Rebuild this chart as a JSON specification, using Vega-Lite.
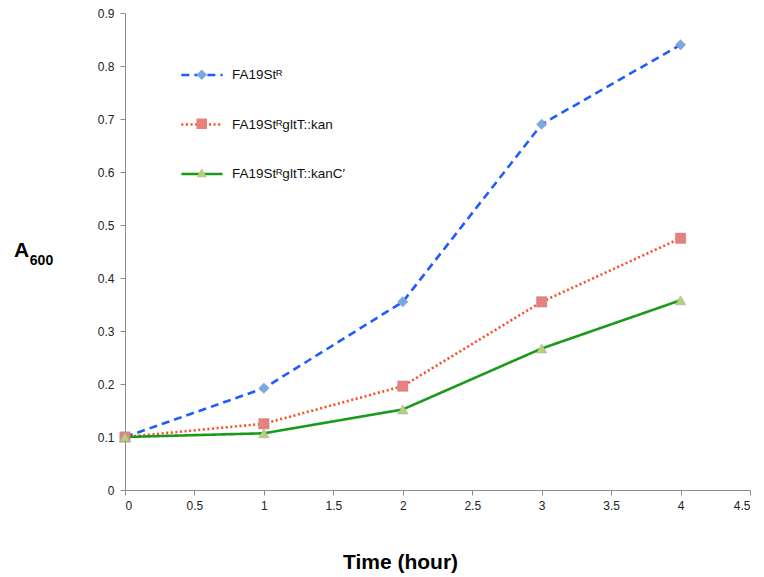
{
  "$schema": "https://vega.github.io/schema/vega-lite/v6.json",
  "width": 625,
  "height": 477,
  "autosize": {"type": "none"},
  "padding": {"left": 125, "top": 13, "right": 14, "bottom": 87},
  "background": "white",
  "config": {
    "view": {"stroke": null},
    "font": "Liberation Sans",
    "axis": {"grid": false, "domainColor": "#8c8c8c", "tickColor": "#8c8c8c", "labelColor": "#222", "labelFontSize": 12, "labelFont": "Liberation Sans", "tickSize": 5, "labelFontWeight": "normal"}
  },
  "data": {
    "values": [
      {"series": "FA19Stᴿ", "strain": "FA19Stᴿ", "hour": 0, "a600": 0.1},
      {"series": "FA19Stᴿ", "strain": "FA19Stᴿ", "hour": 1, "a600": 0.192},
      {"series": "FA19Stᴿ", "strain": "FA19Stᴿ", "hour": 2, "a600": 0.355},
      {"series": "FA19Stᴿ", "strain": "FA19Stᴿ", "hour": 3, "a600": 0.69},
      {"series": "FA19Stᴿ", "strain": "FA19Stᴿ", "hour": 4, "a600": 0.84},
      {"series": "FA19StᴿgltT::kan", "strain": "FA19StᴿgltT::kan", "hour": 0, "a600": 0.1},
      {"series": "FA19StᴿgltT::kan", "strain": "FA19StᴿgltT::kan", "hour": 1, "a600": 0.125},
      {"series": "FA19StᴿgltT::kan", "strain": "FA19StᴿgltT::kan", "hour": 2, "a600": 0.196},
      {"series": "FA19StᴿgltT::kan", "strain": "FA19StᴿgltT::kan", "hour": 3, "a600": 0.355},
      {"series": "FA19StᴿgltT::kan", "strain": "FA19StᴿgltT::kan", "hour": 4, "a600": 0.475},
      {"series": "FA19StᴿgltT::kanC′", "strain": "FA19StᴿgltT::kanC′", "hour": 0, "a600": 0.1},
      {"series": "FA19StᴿgltT::kanC′", "strain": "FA19StᴿgltT::kanC′", "hour": 1, "a600": 0.107},
      {"series": "FA19StᴿgltT::kanC′", "strain": "FA19StᴿgltT::kanC′", "hour": 2, "a600": 0.152},
      {"series": "FA19StᴿgltT::kanC′", "strain": "FA19StᴿgltT::kanC′", "hour": 3, "a600": 0.267},
      {"series": "FA19StᴿgltT::kanC′", "strain": "FA19StᴿgltT::kanC′", "hour": 4, "a600": 0.358}
    ]
  },
  "resolve": {"axis": {"y": "independent"}},
  "layer": [
    {
      "mark": {"type": "line", "strokeWidth": 2.6},
      "encoding": {
        "x": {
          "field": "hour", "type": "quantitative",
          "scale": {"domain": [0, 4.5], "nice": false},
          "axis": {"values": [0, 0.5, 1, 1.5, 2, 2.5, 3, 3.5, 4, 4.5], "format": "~g", "title": "Time (hour)", "titleFontSize": 21, "titleFontWeight": "bold", "titleFont": "Liberation Sans", "titleColor": "#000", "titleX": 275, "titleY": 72, "titleBaseline": "middle", "labelPadding": 5}
        },
        "y": {
          "field": "a600", "type": "quantitative",
          "scale": {"domain": [0, 0.9], "nice": false},
          "axis": {"values": [0, 0.1, 0.2, 0.3, 0.4, 0.5, 0.6, 0.7, 0.8, 0.9], "format": "~g", "title": "A", "titleFontSize": 21, "titleFontWeight": "bold", "titleFont": "Liberation Sans", "titleColor": "#000", "titleAngle": 0, "titleX": -104, "titleY": 237, "titleAlign": "center", "titleBaseline": "middle", "labelPadding": 6}
        },
        "stroke": {
          "field": "series", "type": "nominal",
          "scale": {"domain": ["FA19Stᴿ", "FA19StᴿgltT::kan", "FA19StᴿgltT::kanC′"], "range": ["#1f5cff", "#ff4a22", "#1a9a1a"]},
          "legend": {"orient": "none", "legendX": 55, "legendY": 40, "title": null, "symbolType": "stroke", "symbolSize": 1700, "symbolStrokeWidth": 2.6, "labelFontSize": 13.5, "labelFont": "Liberation Sans", "labelColor": "#111", "rowPadding": 20.5, "labelOffset": 8}
        },
        "strokeDash": {
          "field": "series", "type": "nominal",
          "scale": {"domain": ["FA19Stᴿ", "FA19StᴿgltT::kan", "FA19StᴿgltT::kanC′"], "range": [[8, 5], [2, 2.6], [1, 0]]}
        }
      }
    },
    {
      "mark": {"type": "point", "filled": true, "opacity": 1, "size": 110, "stroke": "#999", "strokeWidth": 0.4},
      "encoding": {
        "x": {"field": "hour", "type": "quantitative"},
        "y": {
          "field": "a600", "type": "quantitative",
          "axis": {"title": "600", "labels": false, "ticks": false, "domain": false, "titleFontSize": 14, "titleFontWeight": "bold", "titleFont": "Liberation Sans", "titleColor": "#000", "titleAngle": 0, "titleX": -709, "titleY": 247, "titleAlign": "center", "titleBaseline": "middle"}
        },
        "fill": {
          "field": "strain", "type": "nominal",
          "scale": {"range": ["#7ba8e2", "#e8807c", "#b5d07b"]},
          "legend": {"orient": "none", "legendX": 70, "legendY": 55, "title": null, "symbolSize": 110, "symbolStrokeWidth": 0, "symbolOpacity": 1, "labelFontSize": 13.5, "labelExpr": "''", "rowPadding": 34, "labelOffset": 8}
        },
        "shape": {
          "field": "strain", "type": "nominal",
          "scale": {"range": ["diamond", "square", "triangle-up"]}
        }
      }
    }
  ]
}
